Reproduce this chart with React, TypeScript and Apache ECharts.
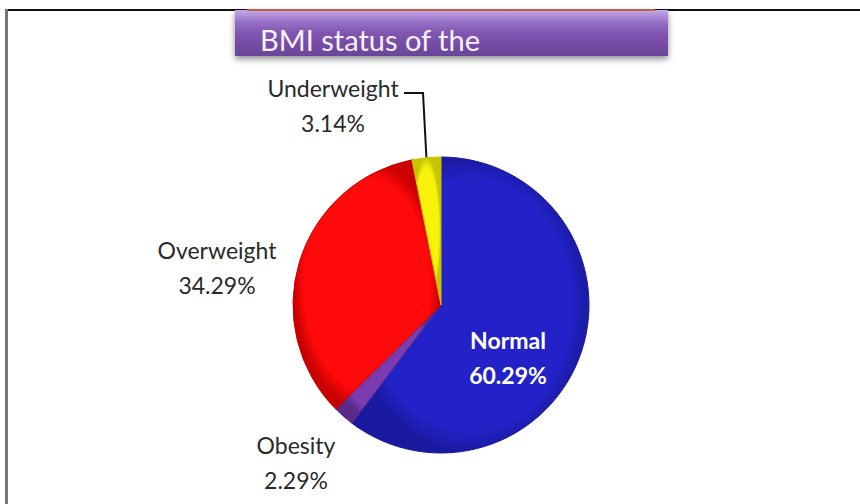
import React, { useEffect, useRef } from "react";
import * as echarts from "echarts";

const categories = ["Normal", "Obesity", "Overweight", "Underweight"];
const values = [60.29, 2.29, 34.29, 3.14];
const titleText = "BMI status of the";

const colors = ["#2222c8", "#7a3cb0", "#ff0a0a", "#f6f20a"];
const borders = ["#1a1aa0", "#5a2a88", "#c80000", "#c8c400"];

export default function App() {
  const ref = useRef<HTMLDivElement>(null);
  useEffect(() => {
    if (!ref.current) return;
    const chart = echarts.init(ref.current, undefined, { renderer: "svg" });
    const labelPos: Record<number, [number, number]> = {
      0: [508, 357],
      1: [296, 462],
      2: [217, 267],
      3: [333, 105],
    };
    chart.setOption({
      animation: false,
      backgroundColor: "#ffffff",
      graphic: [
        { type: "rect", shape: { x: 6, y: 9, width: 860, height: 2 }, style: { fill: "#111" } },
        { type: "rect", shape: { x: 5, y: 9, width: 3, height: 500 }, style: { fill: "#777" } },
        {
          type: "rect",
          shape: { x: 235, y: 10, width: 433, height: 46 },
          style: {
            fill: new echarts.graphic.LinearGradient(0, 0, 0, 1, [
              { offset: 0, color: "#c4aae8" },
              { offset: 0.25, color: "#9a72c8" },
              { offset: 0.5, color: "#7f56b0" },
              { offset: 1, color: "#6a4498" },
            ]),
            shadowBlur: 6,
            shadowOffsetY: 3,
            shadowColor: "rgba(0,0,0,0.45)",
          },
          z: 10,
        },
        { type: "rect", shape: { x: 247, y: 9, width: 408, height: 2 }, style: { fill: "#c0603a" }, z: 11 },
        {
          type: "text",
          x: 260,
          y: 54,
          style: {
            text: titleText,
            fill: "#f6f0fb",
            font: "29px Lato, sans-serif",
            verticalAlign: "bottom",
          },
          z: 12,
        },
      ],
      series: [
        {
          type: "pie",
          center: [441, 305],
          radius: 148,
          startAngle: 90,
          clockwise: true,
          data: categories.map((c, i) => ({
            name: c,
            value: values[i],
            itemStyle: {
              color: new echarts.graphic.RadialGradient(0.5, 0.5, 0.5, [
                { offset: 0, color: colors[i] },
                { offset: 0.85, color: colors[i] },
                { offset: 1, color: borders[i] },
              ]),
              borderColor: borders[i],
              borderWidth: 1,
            },
            label: i === 0
              ? { color: "#ffffff", fontWeight: "bold" }
              : { color: "#2a2a2a" },
            labelLine: { show: i === 3, lineStyle: { color: "#111", width: 2 } },
          })),
          label: {
            show: true,
            formatter: "{b}\n{c}%",
            fontFamily: "Lato, sans-serif",
            fontSize: 23,
            lineHeight: 35,
            align: "center",
          },
          labelLine: { show: false, length: 10, length2: 10 },
          labelLayout: (params: any) => {
            const p = labelPos[params.dataIndex];
            const res: any = { x: p[0], y: p[1], align: "center", verticalAlign: "middle" };
            if (params.dataIndex === 3) {
              const start = params.labelLinePoints && params.labelLinePoints[0]
                ? params.labelLinePoints[0]
                : [428, 160];
              res.labelLinePoints = [start, [423, 93], [404, 93]];
            }
            return res;
          },
          emphasis: { disabled: true },
        },
      ],
    });
    return () => chart.dispose();
  }, []);
  return (
    <div
      ref={ref}
      style={{ position: "fixed", left: 0, top: 0, width: 860, height: 504 }}
    />
  );
}
